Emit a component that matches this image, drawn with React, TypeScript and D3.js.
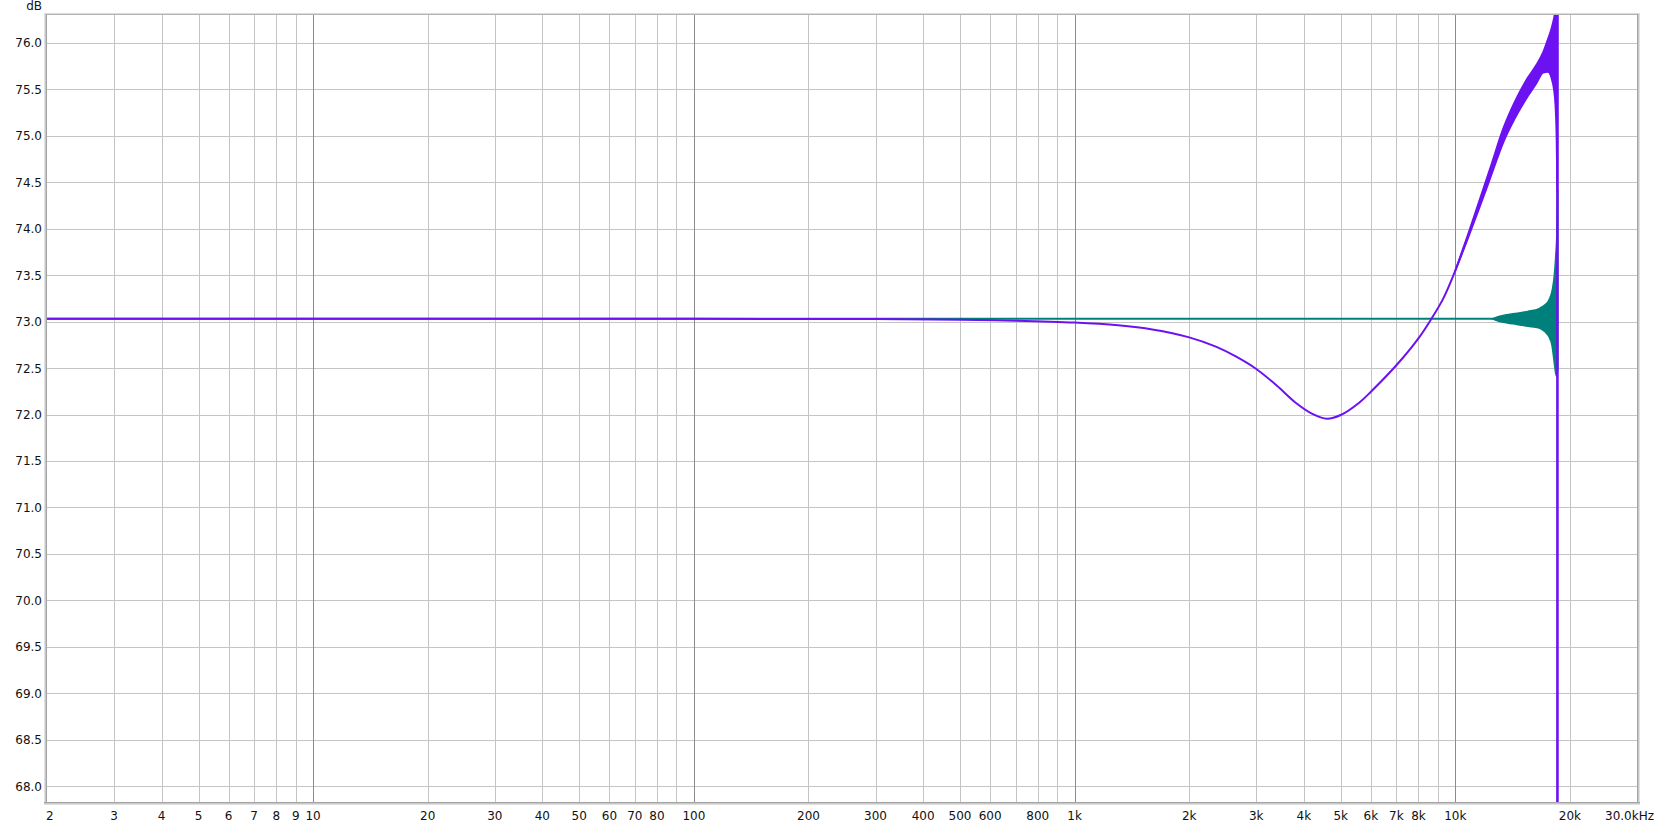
import React from 'react';
import * as d3 from 'd3';

const W = 1660;
const H = 825;
const PLOT = { left: 47, top: 14, right: 1637, bottom: 802 };
const X_DOMAIN: [number, number] = [2, 30000];
const Y_DOMAIN: [number, number] = [67.828, 76.312];

const yTickValues = [68.0, 68.5, 69.0, 69.5, 70.0, 70.5, 71.0, 71.5, 72.0, 72.5, 73.0, 73.5, 74.0, 74.5, 75.0, 75.5, 76.0];
const xGridMajor = [10, 100, 1000, 10000];
const xGridMinor = [3, 4, 5, 6, 7, 8, 9, 20, 30, 40, 50, 60, 70, 80, 90, 200, 300, 400, 500, 600, 700, 800, 900, 2000, 3000, 4000, 5000, 6000, 7000, 8000, 9000, 20000];
const xLabelValues = [2, 3, 4, 5, 6, 7, 8, 9, 10, 20, 30, 40, 50, 60, 70, 80, 100, 200, 300, 400, 500, 600, 800, 1000, 2000, 3000, 4000, 5000, 6000, 7000, 8000, 10000, 20000, 30000];
const xLabelTexts = ['2', '3', '4', '5', '6', '7', '8', '9', '10', '20', '30', '40', '50', '60', '70', '80', '100', '200', '300', '400', '500', '600', '800', '1k', '2k', '3k', '4k', '5k', '6k', '7k', '8k', '10k', '20k', '30.0kHz'];

// Teal trace
const tealFreq = [2, 100, 1000, 5000, 10000, 12500, 18400];
const tealDb = [73.03, 73.03, 73.03, 73.03, 73.03, 73.03, 73.03];
const tealBandFreq = [12500, 13000, 13700, 14500, 15500, 16600, 17200, 17600, 17950, 18200, 18350, 18480, 18580];
const tealBandUpper = [73.03, 73.055, 73.075, 73.09, 73.11, 73.14, 73.18, 73.23, 73.33, 73.5, 73.7, 73.95, 74.41];
const tealBandLower = [73.03, 73.005, 72.985, 72.97, 72.95, 72.93, 72.89, 72.84, 72.74, 72.55, 72.44, 72.41, 72.5];

// Purple trace
const purpleFreq = [2, 100, 300, 500, 700, 1000, 1300, 1600, 2000, 2350, 2650, 3000, 3400, 3800, 4200, 4600, 5000, 5600, 6000, 7000, 8000, 8650, 9300, 10000, 10800, 11600, 12400, 13350, 14300, 15350, 16300, 17000, 17500, 18000, 18300, 18450];
const purpleDb = [73.03, 73.03, 73.027, 73.02, 73.01, 72.99, 72.96, 72.915, 72.83, 72.73, 72.625, 72.49, 72.31, 72.13, 72.01, 71.955, 71.995, 72.13, 72.245, 72.53, 72.82, 73.03, 73.25, 73.55, 73.92, 74.28, 74.62, 75.0, 75.27, 75.5, 75.66, 75.79, 75.86, 75.89, 75.86, 75.75];
const purpleBandFreq = [10000, 10800, 11600, 12400, 13350, 14300, 15350, 16300, 17000, 17500, 18000, 18300, 18450, 18530];
const purpleBandUpper = [73.55, 73.94, 74.32, 74.675, 75.075, 75.36, 75.6, 75.76, 75.9, 76.04, 76.2, 76.36, 76.55, 76.7];
const purpleBandLower = [73.55, 73.9, 74.24, 74.565, 74.925, 75.18, 75.4, 75.56, 75.68, 75.69, 75.58, 75.36, 74.95, 74.4];
const purpleDropFreq = [18540, 18541];
const purpleDropDb = [76.7, 67.5];

const TEAL = '#00807a';
const PURPLE = '#6c12f2';
const FONT = '"DejaVu Sans", Verdana, sans-serif';

export default function App() {
  const x = d3.scaleLog().domain(X_DOMAIN).range([PLOT.left, PLOT.right]);
  const y = d3.scaleLinear().domain(Y_DOMAIN).range([PLOT.bottom, PLOT.top]);

  const makeLine = (fs: number[], vs: number[], curve: any) =>
    d3
      .line<number>()
      .x((f) => x(f))
      .y((_, i) => y(vs[i]))
      .curve(curve)(fs) || '';

  const makeArea = (fs: number[], up: number[], lo: number[]) =>
    d3
      .area<number>()
      .x((f) => x(f))
      .y0((_, i) => y(lo[i]))
      .y1((_, i) => y(up[i]))
      .curve(d3.curveMonotoneX)(fs) || '';

  const tealPath = makeLine(tealFreq, tealDb, d3.curveLinear);
  const tealBand = makeArea(tealBandFreq, tealBandUpper, tealBandLower);
  const purplePath = makeLine(purpleFreq, purpleDb, d3.curveCatmullRom.alpha(0.5));
  const purpleBand = makeArea(purpleBandFreq, purpleBandUpper, purpleBandLower);
  const purpleDrop = makeLine(purpleDropFreq, purpleDropDb, d3.curveLinear);

  const pw = PLOT.right - PLOT.left;
  const ph = PLOT.bottom - PLOT.top;

  return (
    <svg
      width={W}
      height={H}
      style={{ position: 'absolute', left: 0, top: 0, background: '#fff', display: 'block' }}
    >
      <defs>
        <clipPath id="plotClip">
          <rect x={PLOT.left} y={PLOT.top} width={pw} height={ph} />
        </clipPath>
      </defs>
      <rect x={0} y={0} width={W} height={H} fill="#fff" />

      {/* horizontal grid */}
      {yTickValues.map((v) => (
        <line
          key={'h' + v}
          x1={PLOT.left}
          x2={PLOT.right}
          y1={Math.round(y(v)) + 0.5}
          y2={Math.round(y(v)) + 0.5}
          stroke="#c4c4c4"
          strokeWidth={1}
        />
      ))}
      {/* vertical grid */}
      {xGridMinor.map((v) => (
        <line
          key={'vm' + v}
          x1={Math.round(x(v)) + 0.5}
          x2={Math.round(x(v)) + 0.5}
          y1={PLOT.top}
          y2={PLOT.bottom}
          stroke="#c4c4c4"
          strokeWidth={1}
        />
      ))}
      {xGridMajor.map((v) => (
        <line
          key={'vM' + v}
          x1={Math.round(x(v)) + 0.5}
          x2={Math.round(x(v)) + 0.5}
          y1={PLOT.top}
          y2={PLOT.bottom}
          stroke="#8c8c8c"
          strokeWidth={1}
        />
      ))}

      {/* data */}
      <g clipPath="url(#plotClip)">
        <path d={tealPath} fill="none" stroke={TEAL} strokeWidth={2} />
        <path d={tealBand} fill={TEAL} stroke={TEAL} strokeWidth={1.5} strokeLinejoin="round" />
        <path d={purplePath} fill="none" stroke={PURPLE} strokeWidth={2} />
        <path d={purpleBand} fill={PURPLE} stroke={PURPLE} strokeWidth={1.8} strokeLinejoin="round" />
        <path d={purpleDrop} fill="none" stroke={PURPLE} strokeWidth={2.6} />
      </g>

      {/* frame with shadow */}
      <line x1={PLOT.left - 3} x2={PLOT.right + 3} y1={PLOT.top - 0.5} y2={PLOT.top - 0.5} stroke="#dcdcdc" />
      <line x1={PLOT.left - 3} x2={PLOT.right + 3} y1={PLOT.top + 0.5} y2={PLOT.top + 0.5} stroke="#b4b4b4" />
      <line x1={PLOT.left - 2.5} x2={PLOT.left - 2.5} y1={PLOT.top} y2={PLOT.bottom + 3} stroke="#e0e0e0" />
      <line x1={PLOT.left - 1.5} x2={PLOT.left - 1.5} y1={PLOT.top} y2={PLOT.bottom + 3} stroke="#c8c8c8" />
      <line x1={PLOT.left - 0.5} x2={PLOT.left - 0.5} y1={PLOT.top} y2={PLOT.bottom + 3} stroke="#a4a4a4" />
      <line x1={PLOT.right + 0.5} x2={PLOT.right + 0.5} y1={PLOT.top} y2={PLOT.bottom + 3} stroke="#a4a4a4" />
      <line x1={PLOT.right + 1.5} x2={PLOT.right + 1.5} y1={PLOT.top} y2={PLOT.bottom + 3} stroke="#c8c8c8" />
      <line x1={PLOT.right + 2.5} x2={PLOT.right + 2.5} y1={PLOT.top} y2={PLOT.bottom + 3} stroke="#e0e0e0" />
      <line x1={PLOT.left - 3} x2={PLOT.right + 3} y1={PLOT.bottom + 0.5} y2={PLOT.bottom + 0.5} stroke="#a4a4a4" />
      <line x1={PLOT.left - 3} x2={PLOT.right + 3} y1={PLOT.bottom + 1.5} y2={PLOT.bottom + 1.5} stroke="#c8c8c8" />
      <line x1={PLOT.left - 3} x2={PLOT.right + 3} y1={PLOT.bottom + 2.5} y2={PLOT.bottom + 2.5} stroke="#e0e0e0" />

      {/* labels */}
      <g fontFamily={FONT} fontSize={12} fill="#111">
        {yTickValues.map((v) => (
          <text key={'yl' + v} x={42} y={y(v) + 4.5} textAnchor="end">
            {v.toFixed(1)}
          </text>
        ))}
        <text x={42} y={10} textAnchor="end">
          dB
        </text>
        {xLabelValues.map((v, i) => {
          const isFirst = i === 0;
          const isLast = i === xLabelValues.length - 1;
          const px = isFirst ? x(v) - 1 : isLast ? x(v) + 17 : x(v);
          const anchor = isFirst ? 'start' : isLast ? 'end' : 'middle';
          return (
            <text key={'xl' + v} x={px} y={820} textAnchor={anchor}>
              {xLabelTexts[i]}
            </text>
          );
        })}
      </g>
    </svg>
  );
}
